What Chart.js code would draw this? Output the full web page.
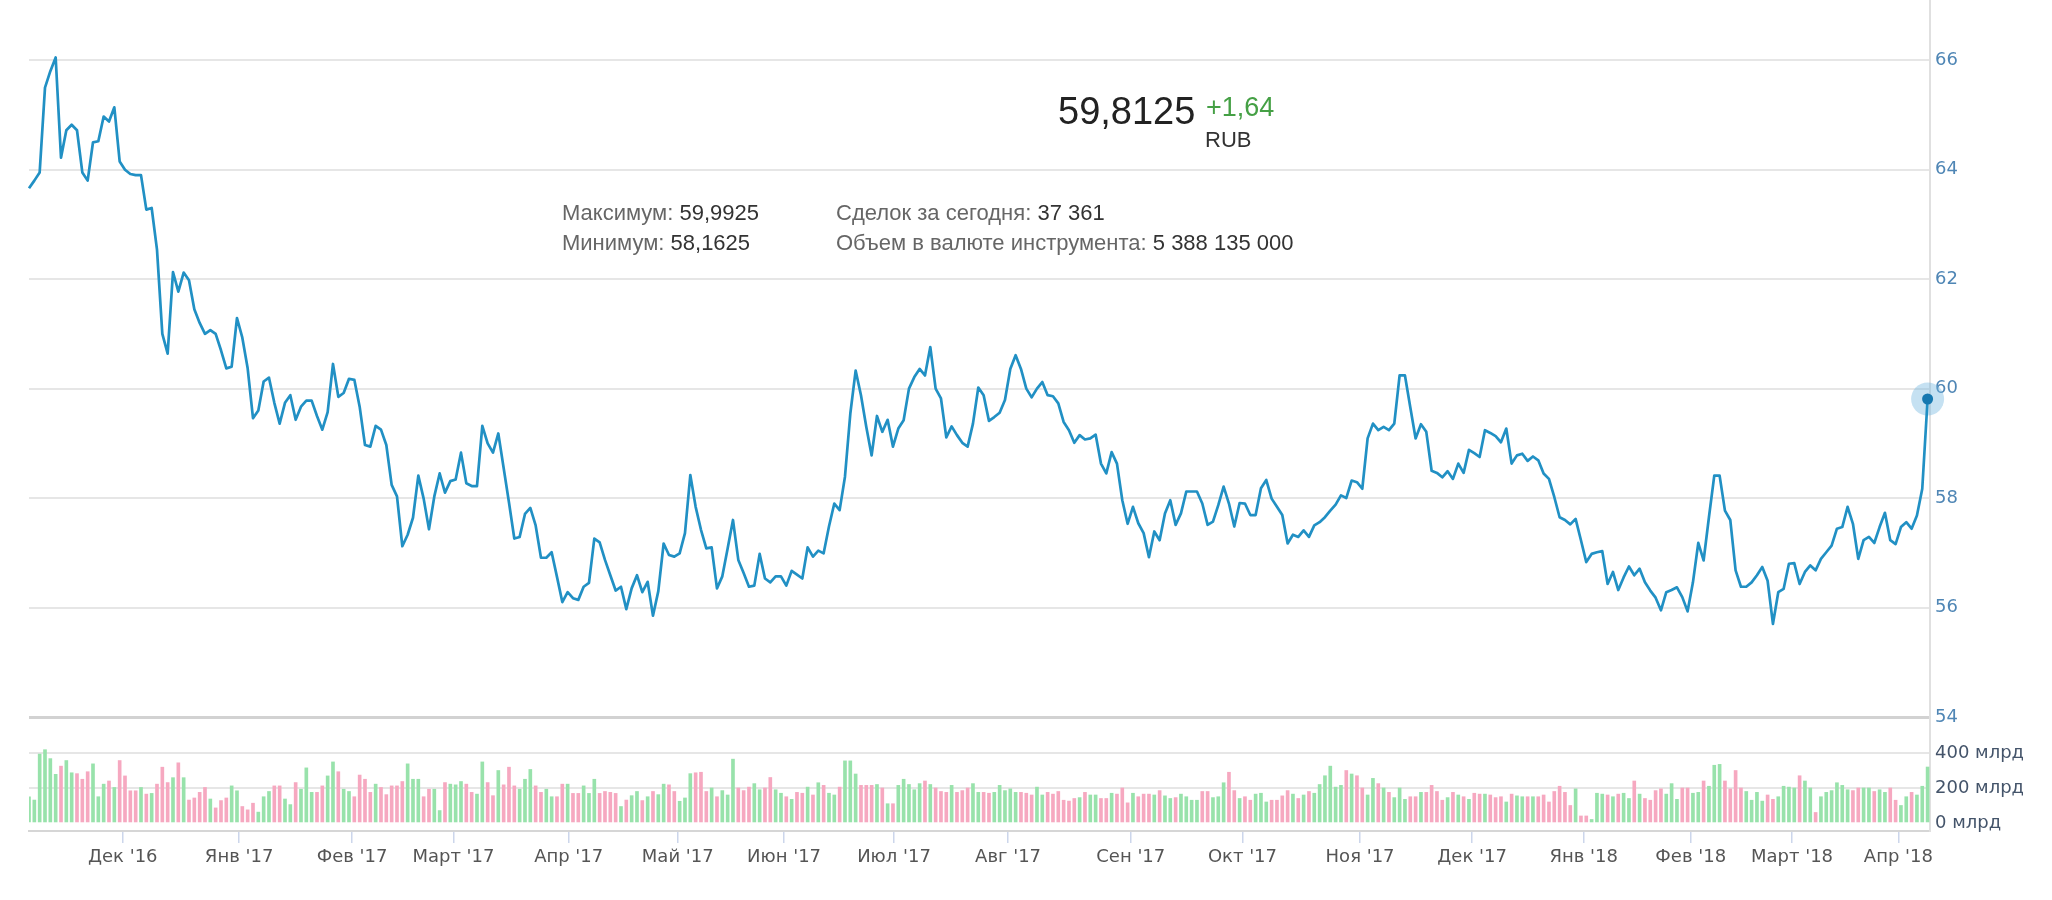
<!DOCTYPE html>
<html><head><meta charset="utf-8">
<script src="https://cdn.jsdelivr.net/npm/chart.js@4.4.1/dist/chart.umd.min.js"></script>
<style>
html,body{margin:0;padding:0;background:#fff;}
#wrap{position:relative;width:2052px;height:900px;overflow:hidden;background:#fff;}
canvas{position:absolute;left:0;top:0;}
.t{position:absolute;white-space:nowrap;font-family:"Liberation Sans",Arial,sans-serif;line-height:1;}
.lab{color:#666;}
.val{color:#333;}
</style></head><body>
<div id="wrap">
<canvas id="c" width="2052" height="900"></canvas>
<div class="t" style="left:1058px;top:92px;font-size:38px;color:#222;">59,8125</div>
<div class="t" style="left:1206px;top:94px;font-size:27px;color:#45a045;">+1,64</div>
<div class="t" style="left:1205px;top:129px;font-size:22px;color:#333;">RUB</div>
<div class="t" style="left:562px;top:202px;font-size:22px;"><span class="lab">Максимум:</span> <span class="val">59,9925</span></div>
<div class="t" style="left:562px;top:232px;font-size:22px;"><span class="lab">Минимум:</span> <span class="val">58,1625</span></div>
<div class="t" style="left:836px;top:202px;font-size:22px;"><span class="lab">Сделок за сегодня:</span> <span class="val">37 361</span></div>
<div class="t" style="left:836px;top:232px;font-size:22px;"><span class="lab">Объем в валюте инструмента:</span> <span class="val">5 388 135 000</span></div>
</div>
<script>
// ---- data ----
const startDate = '2016-11-07';
const holidays = ['2016-11-04','2017-01-02','2017-02-23','2017-03-08','2017-05-01','2017-05-08','2017-05-09','2017-06-12','2017-11-06','2018-01-01','2018-01-02','2018-01-08','2018-02-23','2018-03-08','2018-03-09'];

const prices = [
63.66,63.80,63.95,65.50,65.80,66.05,64.22,64.72,64.82,64.72,
63.95,63.80,64.50,64.52,64.97,64.88,65.14,64.15,64.00,63.92,
63.90,63.90,63.27,63.30,62.54,61.00,60.64,62.13,61.77,62.12,
61.98,61.45,61.20,61.00,61.07,61.00,60.70,60.37,60.40,61.29,
60.93,60.37,59.46,59.60,60.13,60.20,59.74,59.36,59.74,59.88,
59.43,59.67,59.78,59.78,59.50,59.25,59.57,60.45,59.85,59.92,
60.18,60.16,59.67,58.97,58.94,59.32,59.25,58.97,58.24,58.03,
57.12,57.33,57.64,58.41,57.99,57.43,58.03,58.45,58.10,58.31,
58.34,58.83,58.27,58.22,58.22,59.32,59.00,58.83,59.18,58.55,
57.92,57.26,57.29,57.71,57.82,57.50,56.91,56.91,57.01,56.56,
56.10,56.28,56.17,56.14,56.38,56.45,57.26,57.19,56.87,56.59,
56.31,56.38,55.97,56.35,56.59,56.28,56.47,55.85,56.30,57.17,
56.96,56.93,56.99,57.36,58.42,57.84,57.42,57.08,57.10,56.35,
56.57,57.08,57.60,56.87,56.63,56.38,56.40,56.98,56.53,56.46,
56.57,56.57,56.40,56.67,56.60,56.53,57.10,56.93,57.04,56.99,
57.48,57.90,57.78,58.39,59.54,60.33,59.88,59.30,58.78,59.50,
59.21,59.43,58.94,59.27,59.42,60.00,60.21,60.36,60.24,60.76,
60.00,59.82,59.11,59.31,59.15,59.01,58.94,59.36,60.02,59.88,
59.41,59.48,59.56,59.79,60.36,60.61,60.36,60.00,59.84,60.00,
60.12,59.88,59.86,59.73,59.39,59.24,59.01,59.15,59.07,59.09,
59.16,58.63,58.45,58.84,58.63,57.96,57.53,57.84,57.54,57.36,
56.92,57.39,57.23,57.72,57.96,57.51,57.72,58.12,58.12,58.12,
57.90,57.51,57.57,57.87,58.21,57.90,57.48,57.91,57.90,57.69,
57.69,58.18,58.33,57.99,57.84,57.69,57.17,57.33,57.29,57.41,
57.29,57.50,57.56,57.65,57.77,57.88,58.05,58.00,58.32,58.29,
58.17,59.09,59.36,59.24,59.30,59.24,59.36,60.24,60.24,59.66,
59.09,59.35,59.21,58.50,58.46,58.38,58.49,58.35,58.63,58.46,
58.88,58.82,58.75,59.24,59.19,59.13,59.02,59.27,58.63,58.78,
58.81,58.68,58.76,58.69,58.45,58.35,58.02,57.65,57.60,57.52,
57.62,57.23,56.83,56.98,57.01,57.03,56.43,56.65,56.32,56.55,
56.75,56.59,56.71,56.46,56.31,56.18,55.95,56.28,56.32,56.37,
56.19,55.93,56.46,57.18,56.86,57.65,58.41,58.41,57.77,57.60,
56.68,56.38,56.38,56.46,56.59,56.74,56.49,55.70,56.28,56.34,
56.80,56.81,56.43,56.65,56.77,56.68,56.89,57.01,57.13,57.44,
57.47,57.84,57.53,56.89,57.23,57.29,57.18,57.47,57.73,57.23,
57.16,57.47,57.56,57.44,57.68,58.17,59.81
];

// traded volume, млрд RUB
const volumes = [
150,131,394,419,368,278,325,357,287,282,
250,293,338,150,222,240,203,357,269,184,
184,203,165,169,222,319,231,259,344,259,
131,143,175,203,137,86,128,143,212,184,
94,75,113,62,150,180,212,212,137,105,
231,193,315,175,175,212,269,349,293,193,
180,150,274,250,175,222,203,162,212,212,
237,338,250,250,150,193,193,71,231,222,
218,237,222,175,165,349,231,156,300,218,
319,212,193,250,306,212,175,193,150,150,
222,222,169,169,212,169,250,169,180,175,
169,94,131,156,180,128,150,180,162,222,
218,180,124,143,282,287,
290,180,200,150,185,160,365,200,185,205,
225,190,200,260,190,170,150,135,175,170,
205,160,230,215,170,160,205,355,355,280,
215,215,215,220,200,110,110,215,250,220,
190,225,240,220,200,180,175,215,175,185,
200,225,175,175,170,175,215,185,195,175,
175,170,160,205,160,175,165,180,130,125,
140,145,175,160,160,140,140,170,165,200,
115,170,150,165,165,160,185,155,140,145,
165,150,130,130,180,180,145,150,230,290,
185,140,150,130,165,170,120,130,130,155,
185,165,140,160,180,170,220,270,325,205,
215,300,280,270,200,160,255,225,200,175,
145,200,135,150,150,175,175,215,180,130,
145,175,160,150,135,170,165,165,160,145,
150,120,165,155,150,150,150,150,160,120,
180,210,175,100,195,40,40,20,170,165,
160,150,165,170,140,240,165,140,130,185,
195,165,225,135,200,200,170,175,240,210,
330,335,240,195,300,200,180,130,175,125,
160,135,150,210,205,200,270,240,200,60,
150,175,185,230,215,190,185,200,200,200,
180,190,175,200,130,100,150,175,160,210,
320
];

const tickLabels = ["Дек '16","Янв '17","Фев '17","Март '17","Апр '17","Май '17","Июн '17","Июл '17","Авг '17","Сен '17","Окт '17","Ноя '17","Дек '17","Янв '18","Фев '18","Март '18","Апр '18"];
const priceTicks = [54,56,58,60,62,64,66];
const volumeTicks = [0,200,400];

// ---- trading calendar (ordinal axis) ----
function buildDates(n){
  const hol = new Set(holidays);
  const out = [];
  const d = new Date(startDate + 'T10:00:00Z');
  while (out.length < n) {
    const wd = d.getUTCDay();
    const s = d.toISOString().slice(0,10);
    if (wd !== 0 && wd !== 6 && !hol.has(s)) out.push(new Date(d.getTime()));
    d.setUTCDate(d.getUTCDate() + 1);
  }
  return out;
}
const dates = buildDates(prices.length);
const monthTicks = [];
for (let i = 1; i < dates.length; i++) {
  if (dates[i].getUTCMonth() !== dates[i-1].getUTCMonth()) {
    const ms = Date.UTC(dates[i].getUTCFullYear(), dates[i].getUTCMonth(), 1);
    const f = (ms - dates[i-1].getTime()) / (dates[i].getTime() - dates[i-1].getTime());
    monthTicks.push(i - 1 + f);
  }
}

const n = prices.length;
const upColor = '#98e2ab', downColor = '#f6a8c0';
const barColors = volumes.map((v,i) => (i > 0 && prices[i] < prices[i-1]) ? downColor : upColor);

function noPad(s){ s.paddingTop = 0; s.paddingBottom = 0; s.paddingLeft = 0; s.paddingRight = 0; }

new Chart(document.getElementById('c'), {
  data: {
    datasets: [
      { type:'line', data: prices.map((p,i)=>({x:i,y:p})), yAxisID:'y', xAxisID:'x',
        borderColor:'#2190c4', borderWidth:2.7, tension:0, borderJoinStyle:'round',
        pointRadius: c => c.dataIndex === n-1 ? 5.5 : 0, pointBackgroundColor:'#1678b0',
        pointBorderWidth:0, pointHoverRadius:0, clip:false, order:1 },
      { type:'line', data:[{x:n-1, y:prices[n-1]}], yAxisID:'y', xAxisID:'x', showLine:false,
        pointRadius:16.5, pointBackgroundColor:'rgba(110,180,222,0.4)', pointBorderWidth:0,
        pointHoverRadius:0, clip:false, order:2 },
      { type:'bar', data: volumes.map((v,i)=>({x:i,y:v})), yAxisID:'yv', xAxisID:'x',
        backgroundColor: barColors, barThickness:3, order:3 }
    ]
  },
  options: {
    responsive:false, animation:false, devicePixelRatio:1, events:[],
    layout:{autoPadding:false, padding:{left:29, top:0, right:0, bottom:29}},
    plugins:{legend:{display:false}, tooltip:{enabled:false}},
    scales:{
      x:{ type:'linear', position:'bottom', offset:false, min:0, max:n-1+0.45,
        afterBuildTicks: a => { a.ticks = monthTicks.map(v => ({value:v})); },
        afterFit: s => { s.height = 40; noPad(s); },
        ticks:{ autoSkip:false, maxRotation:0, padding:4, color:'#555',
          font:{family:'DejaVu Sans', size:18}, callback:(v,i)=>tickLabels[i] },
        grid:{ offset:false, drawOnChartArea:false, drawTicks:true, tickLength:12, color:'#ccd6eb', lineWidth:1.5 },
        border:{ display:true, color:'#d6d6d6', width:2 } },
      y:{ type:'linear', position:'right', stack:'panes', stackWeight:717, min:54, max:67.1,
        afterBuildTicks: a => { a.ticks = priceTicks.map(v => ({value:v})); },
        afterFit: s => { s.width = 122; noPad(s); },
        ticks:{ padding:5, color:'#4f86b5', font:{family:'DejaVu Sans', size:18}, callback: v => String(v) },
        grid:{ drawTicks:false, color: c => (c.tick && c.tick.value === 54) ? '#d2d2d2' : '#e6e6e6',
          lineWidth: c => (c.tick && c.tick.value === 54) ? 3 : 2 },
        border:{ display:true, color:'#e0e0e0', width:2 } },
      yv:{ type:'linear', position:'right', stack:'panes', stackWeight:114, min:-46, max:606,
        afterBuildTicks: a => { a.ticks = volumeTicks.map(v => ({value:v})); },
        afterFit: s => { s.width = 122; noPad(s); },
        ticks:{ padding:5, color:'#44546a', font:{family:'DejaVu Sans', size:18}, callback: v => v + ' млрд' },
        grid:{ drawTicks:false, color: c => (c.tick && c.tick.value === 0) ? 'rgba(0,0,0,0)' : '#e6e6e6', lineWidth:2 },
        border:{ display:true, color:'#e0e0e0', width:2 } }
    }
  }
});
</script>
</body></html>
